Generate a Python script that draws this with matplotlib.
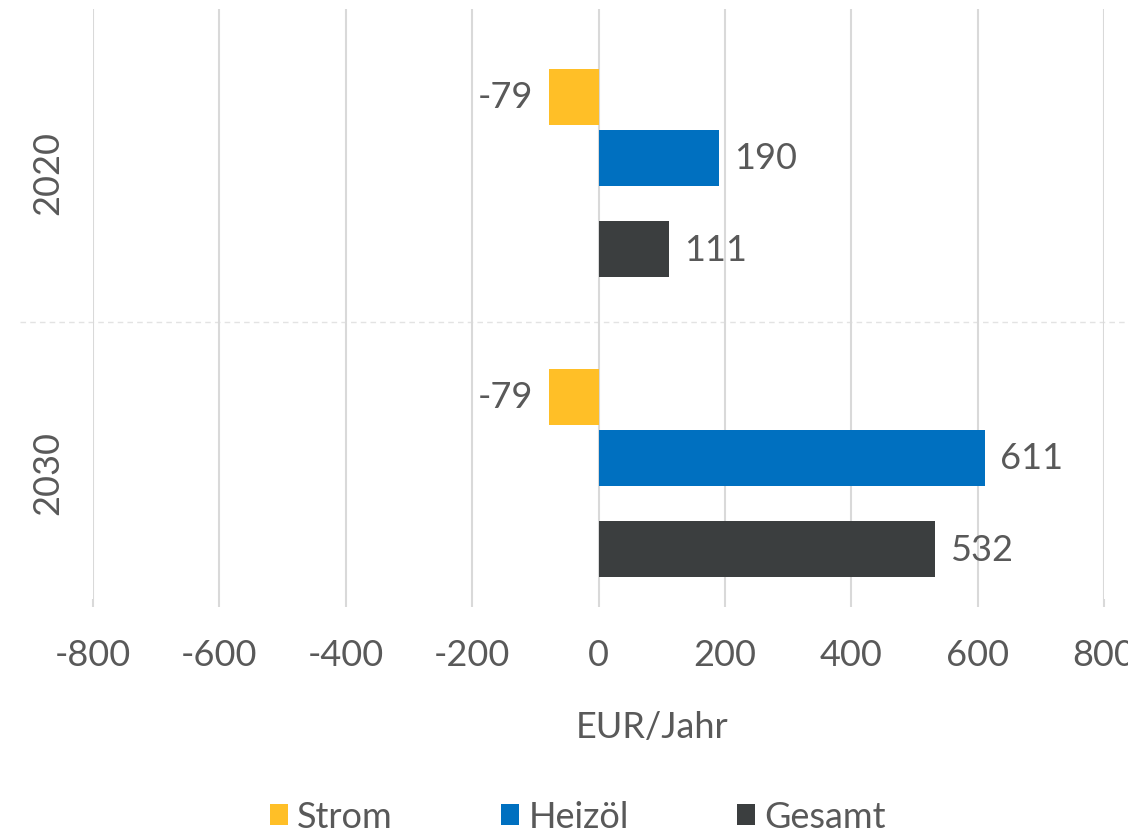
import numpy as np
import matplotlib.pyplot as plt

# data
years = ['2020', '2030']
series = ['Strom', 'Heizöl', 'Gesamt']
strom = [-79, -79]
heizoel = [190, 611]
gesamt = [111, 532]
xticks = [-800, -600, -400, -200, 0, 200, 400, 600, 800]

colors = ['#FFBF27', '#0070C0', '#3B3E3F']
offsets = [-0.25, -0.047, 0.257]  # bar positions inside a category
txt = '#595959'
grid = '#D9D9D9'

plt.rcParams['font.family'] = ['Lato', 'DejaVu Sans']

W, H = 1128, 837
fig = plt.figure(figsize=(W / 100, H / 100), dpi=100)
ax = fig.add_axes([93 / W, 1 - 600 / H, (1104 - 93) / W, (600 - 10) / H])

y = np.arange(len(years))
for vals, col, off, name in zip([strom, heizoel, gesamt], colors, offsets, series):
    bars = ax.barh(y + off, vals, height=56 / 300, color=col, label=name, zorder=3)
    for b, v in zip(bars, vals):
        pad = 15 if v >= 0 else -15
        ax.annotate(str(v), (v, b.get_y() + b.get_height() / 2),
                    xytext=(pad * 0.72, 0), textcoords='offset points',
                    ha='left' if v >= 0 else 'right', va='center',
                    fontsize=26, color=txt)

ax.set_xlim(-800, 800)
ax.set_ylim(1 + 127 / 300, -163 / 300)
ax.set_xticks(xticks)
ax.set_xticklabels([str(t) for t in xticks], fontsize=26, color=txt)
ax.set_yticks(y)
ax.set_yticklabels(years, rotation=90, va='center', fontsize=26, color=txt)
ax.tick_params(axis='x', length=6, width=1.5, color=grid, pad=22)
ax.tick_params(axis='y', length=0, pad=21)
ax.grid(axis='x', color=grid, linewidth=1.5, zorder=0)
for s in ax.spines.values():
    s.set_visible(False)

# dashed separator between the categories
ax.plot([-800 - 73 / 0.632, 800 + 24 / 0.632], [0.5, 0.5], ls=(0, (4, 3)),
        color='#E3E3E3', lw=1, clip_on=False, zorder=1)

ax.set_xlabel('EUR/Jahr', fontsize=26, color=txt)
ax.xaxis.set_label_coords((652 - 93) / 1011, -(728 - 600) / 590)
ax.xaxis.label.set_va('center')

fig.legend(loc='center', bbox_to_anchor=(578 / W, 1 - 818 / H), ncol=3,
           frameon=False, fontsize=26, labelcolor=txt, handlelength=0.5,
           handleheight=0.5, handletextpad=0.25, columnspacing=3.0)

fig.savefig('out.png', dpi=100)
